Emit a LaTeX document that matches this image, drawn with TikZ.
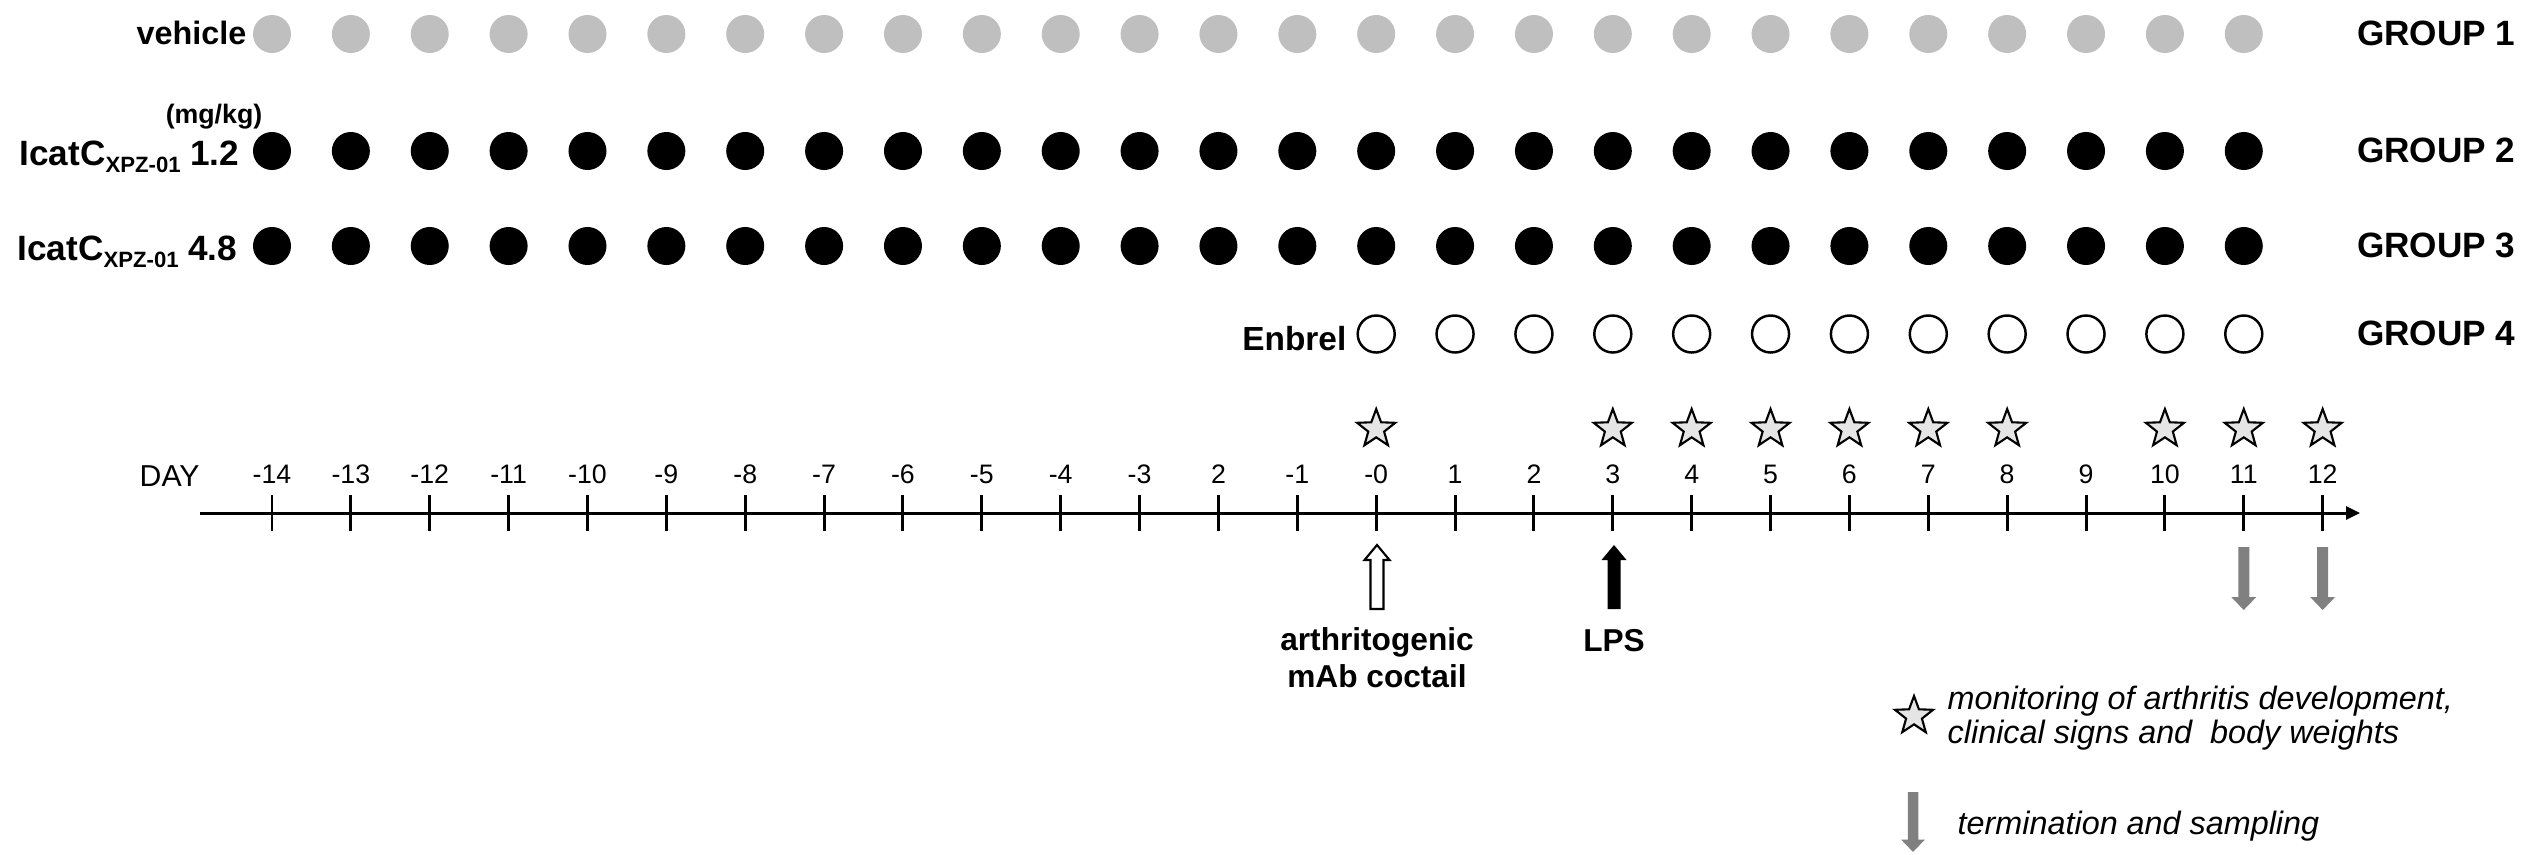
\documentclass[tikz,border=0pt]{standalone}
\usepackage{fontspec}
\setmainfont{Liberation Sans}
\usetikzlibrary{arrows.meta,shapes.geometric}

\begin{document}
\begin{tikzpicture}[x=0.01cm, y=-0.01cm,
    fulldot/.style={circle, fill=black, inner sep=0pt, minimum size=0.38cm},
    greydot/.style={fulldot, fill=black!25},
    opendot/.style={circle, draw, line width=0.7pt, inner sep=0pt, minimum size=0.37cm},
    monstar/.style={star, star points=5, star point ratio=2.4, draw, line width=0.6pt, fill=black!10, inner sep=0pt, minimum size=0.4cm},
    uparrow/.pic={\path[pic actions] (-6.5,32) -- (-6.5,-17) -- (-12.5,-17) -- (0,-32) -- (12.5,-17) -- (6.5,-17) -- (6.5,32) -- cycle;},
    downarrow/.pic={\path[pic actions] (-5.5,-31.5) -- (-5.5,18.5) -- (-12.5,18.5) -- (0,31.5) -- (12.5,18.5) -- (5.5,18.5) -- (5.5,-31.5) -- cycle;},
    rowlbl/.style={anchor=base east, inner sep=0pt, font=\fontsize{9.2}{11}\selectfont\bfseries},
    drugf/.style={rowlbl, font=\fontsize{10}{11}\selectfont\bfseries},
    grouplbl/.style={anchor=base east, inner sep=0pt, font=\fontsize{10}{11}\selectfont\bfseries},
    boldlbl/.style={inner sep=0pt, font=\fontsize{9}{10.5}\selectfont\bfseries},
    ticklbl/.style={anchor=base, inner sep=0pt, font=\fontsize{7.6}{9}\selectfont},
    keylbl/.style={inner sep=0pt, font=\fontsize{9.2}{9.4}\selectfont\itshape}]
  \useasboundingbox (0,0) rectangle (2537,854);

  % dosing rows
  \foreach \i in {0,...,25} {
    \node[greydot] (veh\i) at ({272+78.87*\i},34) {};
    \node[fulldot] (low\i) at ({272+78.87*\i},151) {};
    \node[fulldot] (high\i) at ({272+78.87*\i},246) {};
  }
  \foreach \i in {14,...,25}
    \node[opendot] (enb\i) at ({272+78.87*\i},334) {};

  \node[rowlbl] (vehlbl) at (247,44) {vehicle};
  \node[inner sep=0pt, anchor=base, font=\fontsize{7.6}{9}\selectfont\bfseries] (unitlbl) at (214,123) {(mg/kg)};
  \node[drugf] (lowlbl) at (240,165) {IcatC\raisebox{-2.2pt}{\fontsize{6.3}{7}\selectfont XPZ-01}~1.2};
  \node[drugf] (highlbl) at (238,260) {IcatC\raisebox{-2.2pt}{\fontsize{6.3}{7}\selectfont XPZ-01}~4.8};
  \node[rowlbl, font=\fontsize{9.5}{11}\selectfont\bfseries] (enblbl) at (1347,350) {Enbrel};

  \foreach \g/\y in {1/34,2/151,3/246,4/334}
    \node[grouplbl] (grp\g) at (2516,{\y+11}) {GROUP \g};

  % time axis
  \node[anchor=base west, inner sep=0pt, font=\fontsize{8.6}{10}\selectfont] (daylbl) at (139,486) {DAY};
  \coordinate (axstart) at (200,513);
  \coordinate (axend) at (2360,513);
  \draw[line width=0.85pt, -{Triangle[length=0.14cm,width=0.13cm]}] (axstart) -- (axend);
  \foreach \lab [count=\i from 0] in {-14,-13,-12,-11,-10,-9,-8,-7,-6,-5,-4,-3,2,-1,-0,1,2,3,4,5,6,7,8,9,10,11,12} {
    \coordinate (t\i) at ({272+78.87*\i},513);
    \draw[line width=0.85pt] (t\i) ++(0,-18) -- ++(0,36);
    \node[ticklbl] (lab\i) at ({272+78.87*\i},483) {\lab};
  }
  \foreach \i in {14,17,18,19,20,21,22,24,25,26}
    \node[monstar] (star\i) at ({272+78.87*\i},429) {};

  % challenge and termination
  \pic[draw, line width=0.6pt, fill=white] (mab) at (1377,577) {uparrow};
  \pic[fill=black] (lps) at (1614,577) {uparrow};
  \node[boldlbl, align=center, anchor=base] (mablbl) at (1377,687) {arthritogenic\\mAb coctail};
  \node[boldlbl, anchor=base] (lpslbl) at (1614,651) {LPS};
  \pic[fill=black!50] (end11) at ({272+78.87*25},578.5) {downarrow};
  \pic[fill=black!50] (end12) at ({272+78.87*26},578.5) {downarrow};

  % key
  \node[monstar] (keystar) at (1914,716) {};
  \node[keylbl, anchor=base west, align=left] (keystartxt) at (1947,743) {monitoring of arthritis development,\\clinical signs and~ body weights};
  \pic[fill=black!50, scale=0.95] (keyarrow) at (1913,822) {downarrow};
  \node[keylbl, anchor=base west] (keyarrowtxt) at (1957,834) {termination and sampling};
\end{tikzpicture}
\end{document}
